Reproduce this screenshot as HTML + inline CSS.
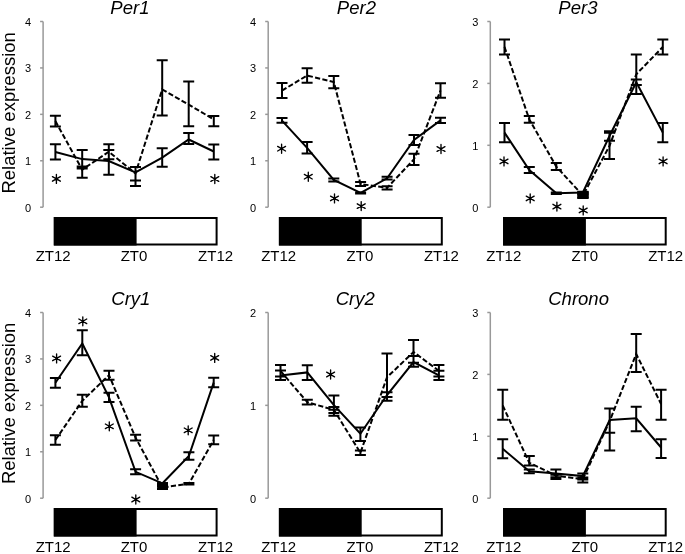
<!DOCTYPE html><html><head><meta charset="utf-8"><style>html,body{margin:0;padding:0;background:#fff;overflow:hidden;}svg{display:block;font-family:"Liberation Sans",sans-serif;will-change:transform;}</style></head><body>
<svg width="685" height="554" viewBox="0 0 685 554">
<text transform="translate(14.9 112.9) rotate(-90)" text-anchor="middle" font-size="18.5" fill="#000">Relative expression</text>
<text transform="translate(14.9 403.4) rotate(-90)" text-anchor="middle" font-size="18.5" fill="#000">Relative expression</text>
<path d="M43.1 21.5V207.2" stroke="#999999" stroke-width="1.5" fill="none"/>
<path d="M40.1 207.2H43.1" stroke="#999999" stroke-width="1.5" fill="none"/>
<text x="31.1" y="211.5" text-anchor="end" font-size="11" fill="#000">0</text>
<path d="M40.1 160.77H43.1" stroke="#999999" stroke-width="1.5" fill="none"/>
<text x="31.1" y="165.07" text-anchor="end" font-size="11" fill="#000">1</text>
<path d="M40.1 114.35H43.1" stroke="#999999" stroke-width="1.5" fill="none"/>
<text x="31.1" y="118.65" text-anchor="end" font-size="11" fill="#000">2</text>
<path d="M40.1 67.93H43.1" stroke="#999999" stroke-width="1.5" fill="none"/>
<text x="31.1" y="72.23" text-anchor="end" font-size="11" fill="#000">3</text>
<path d="M40.1 21.5H43.1" stroke="#999999" stroke-width="1.5" fill="none"/>
<text x="31.1" y="25.8" text-anchor="end" font-size="11" fill="#000">4</text>
<rect x="54.8" y="218" width="161.8" height="26.5" fill="#fff" stroke="#000" stroke-width="2"/>
<rect x="53.8" y="217" width="82.8" height="28.5" fill="#000"/>
<text x="53.2" y="261" text-anchor="middle" font-size="15" fill="#000">ZT12</text>
<text x="134.05" y="261" text-anchor="middle" font-size="15" fill="#000">ZT0</text>
<text x="215.6" y="261" text-anchor="middle" font-size="15" fill="#000">ZT12</text>
<text x="129.9" y="14" text-anchor="middle" font-size="18.5" font-style="italic" fill="#000">Per1</text>
<path d="M55.4 115.8V126.4M49.9 115.8H60.9M49.9 126.4H60.9M82.2 166.4V177.8M76.7 166.4H87.7M76.7 177.8H87.7M108.8 144.3V159.2M103.3 144.3H114.3M103.3 159.2H114.3M135.5 166.9V186.1M130 166.9H141M130 186.1H141M162.2 60.2V115.6M156.7 60.2H167.7M156.7 115.6H167.7M188.7 81.5V126.3M183.2 81.5H194.2M183.2 126.3H194.2M213.8 116.1V126.2M208.3 116.1H219.3M208.3 126.2H219.3M55.4 144.3V159.6M49.9 144.3H60.9M49.9 159.6H60.9M82.2 149.9V168.5M76.7 149.9H87.7M76.7 168.5H87.7M108.8 149.9V174.7M103.3 149.9H114.3M103.3 174.7H114.3M135.5 166.9V180.6M130 166.9H141M130 180.6H141M162.2 148.2V166.7M156.7 148.2H167.7M156.7 166.7H167.7M188.7 133V143.9M183.2 133H194.2M183.2 143.9H194.2M213.8 144.4V159.4M208.3 144.4H219.3M208.3 159.4H219.3" stroke="#000" stroke-width="2" fill="none"/>
<polyline points="55.4,121.1 82.2,169.7 108.8,151.7 135.5,173.4 162.2,89.4 188.7,104.6 213.8,119.4" stroke="#000" stroke-width="2" stroke-dasharray="5.2 2.3" fill="none"/>
<polyline points="55.4,152 82.2,159.1 108.8,161 135.5,172.3 162.2,157.6 188.7,139.5 213.8,151.5" stroke="#000" stroke-width="2" fill="none"/>
<path d="M56.4 174.4V183.4M52.45 176.6L60.35 181.2M52.45 181.2L60.35 176.6" stroke="#000" stroke-width="1.35" stroke-linecap="round" fill="none"/><ellipse cx="56.4" cy="178.9" rx="1.5" ry="1.1" fill="#000"/>
<path d="M214.8 174.5V183.5M210.85 176.7L218.75 181.3M210.85 181.3L218.75 176.7" stroke="#000" stroke-width="1.35" stroke-linecap="round" fill="none"/><ellipse cx="214.8" cy="179" rx="1.5" ry="1.1" fill="#000"/>
<path d="M268.2 21.5V207.2" stroke="#999999" stroke-width="1.5" fill="none"/>
<path d="M265.2 207.2H268.2" stroke="#999999" stroke-width="1.5" fill="none"/>
<text x="256.2" y="211.5" text-anchor="end" font-size="11" fill="#000">0</text>
<path d="M265.2 160.77H268.2" stroke="#999999" stroke-width="1.5" fill="none"/>
<text x="256.2" y="165.07" text-anchor="end" font-size="11" fill="#000">1</text>
<path d="M265.2 114.35H268.2" stroke="#999999" stroke-width="1.5" fill="none"/>
<text x="256.2" y="118.65" text-anchor="end" font-size="11" fill="#000">2</text>
<path d="M265.2 67.93H268.2" stroke="#999999" stroke-width="1.5" fill="none"/>
<text x="256.2" y="72.23" text-anchor="end" font-size="11" fill="#000">3</text>
<path d="M265.2 21.5H268.2" stroke="#999999" stroke-width="1.5" fill="none"/>
<text x="256.2" y="25.8" text-anchor="end" font-size="11" fill="#000">4</text>
<rect x="279.9" y="218" width="161.9" height="26.5" fill="#fff" stroke="#000" stroke-width="2"/>
<rect x="278.9" y="217" width="82.8" height="28.5" fill="#000"/>
<text x="278.7" y="261" text-anchor="middle" font-size="15" fill="#000">ZT12</text>
<text x="359.95" y="261" text-anchor="middle" font-size="15" fill="#000">ZT0</text>
<text x="441.45" y="261" text-anchor="middle" font-size="15" fill="#000">ZT12</text>
<text x="356.4" y="14" text-anchor="middle" font-size="18.5" font-style="italic" fill="#000">Per2</text>
<path d="M282 83.1V98M276.5 83.1H287.5M276.5 98H287.5M307.1 68.3V82.7M301.6 68.3H312.6M301.6 82.7H312.6M333.8 75.9V88.2M328.3 75.9H339.3M328.3 88.2H339.3M360.6 182.1V185.9M355.1 182.1H366.1M355.1 185.9H366.1M387.1 186.2V189.5M381.6 186.2H392.6M381.6 189.5H392.6M414 153.7V164.9M408.5 153.7H419.5M408.5 164.9H419.5M440.5 83.3V97.7M435 83.3H446M435 97.7H446M282 118V122.8M276.5 118H287.5M276.5 122.8H287.5M307.1 142.1V153.6M301.6 142.1H312.6M301.6 153.6H312.6M333.8 178.5V181.4M328.3 178.5H339.3M328.3 181.4H339.3M360.6 192.6V193.6M355.1 192.6H366.1M355.1 193.6H366.1M387.1 176.7V179.6M381.6 176.7H392.6M381.6 179.6H392.6M414 135V145M408.5 135H419.5M408.5 145H419.5M440.5 117.7V123.1M435 117.7H446M435 123.1H446" stroke="#000" stroke-width="2" fill="none"/>
<polyline points="282,90.6 307.1,75.5 333.8,82 360.6,184 387.1,187.8 414,159.3 440.5,90.5" stroke="#000" stroke-width="2" stroke-dasharray="5.2 2.3" fill="none"/>
<polyline points="282,120.6 307.1,147.8 333.8,180 360.6,192.8 387.1,178.3 414,140 440.5,120.4" stroke="#000" stroke-width="2" fill="none"/>
<path d="M281.6 144.2V153.2M277.65 146.4L285.55 151M277.65 151L285.55 146.4" stroke="#000" stroke-width="1.35" stroke-linecap="round" fill="none"/><ellipse cx="281.6" cy="148.7" rx="1.5" ry="1.1" fill="#000"/>
<path d="M308.3 172.2V181.2M304.35 174.4L312.25 179M304.35 179L312.25 174.4" stroke="#000" stroke-width="1.35" stroke-linecap="round" fill="none"/><ellipse cx="308.3" cy="176.7" rx="1.5" ry="1.1" fill="#000"/>
<path d="M334.5 193.9V202.9M330.55 196.1L338.45 200.7M330.55 200.7L338.45 196.1" stroke="#000" stroke-width="1.35" stroke-linecap="round" fill="none"/><ellipse cx="334.5" cy="198.4" rx="1.5" ry="1.1" fill="#000"/>
<path d="M361.2 201.6V210.6M357.25 203.8L365.15 208.4M357.25 208.4L365.15 203.8" stroke="#000" stroke-width="1.35" stroke-linecap="round" fill="none"/><ellipse cx="361.2" cy="206.1" rx="1.5" ry="1.1" fill="#000"/>
<path d="M441 144.5V153.5M437.05 146.7L444.95 151.3M437.05 151.3L444.95 146.7" stroke="#000" stroke-width="1.35" stroke-linecap="round" fill="none"/><ellipse cx="441" cy="149" rx="1.5" ry="1.1" fill="#000"/>
<path d="M490.3 21.5V207.2" stroke="#999999" stroke-width="1.5" fill="none"/>
<path d="M487.3 207.2H490.3" stroke="#999999" stroke-width="1.5" fill="none"/>
<text x="478.3" y="211.5" text-anchor="end" font-size="11" fill="#000">0</text>
<path d="M487.3 145.3H490.3" stroke="#999999" stroke-width="1.5" fill="none"/>
<text x="478.3" y="149.6" text-anchor="end" font-size="11" fill="#000">1</text>
<path d="M487.3 83.4H490.3" stroke="#999999" stroke-width="1.5" fill="none"/>
<text x="478.3" y="87.7" text-anchor="end" font-size="11" fill="#000">2</text>
<path d="M487.3 21.5H490.3" stroke="#999999" stroke-width="1.5" fill="none"/>
<text x="478.3" y="25.8" text-anchor="end" font-size="11" fill="#000">3</text>
<rect x="504.1" y="218" width="161.6" height="26.5" fill="#fff" stroke="#000" stroke-width="2"/>
<rect x="503.1" y="217" width="82.8" height="28.5" fill="#000"/>
<text x="503.75" y="261" text-anchor="middle" font-size="15" fill="#000">ZT12</text>
<text x="584.75" y="261" text-anchor="middle" font-size="15" fill="#000">ZT0</text>
<text x="665.65" y="261" text-anchor="middle" font-size="15" fill="#000">ZT12</text>
<text x="577.9" y="14" text-anchor="middle" font-size="18.5" font-style="italic" fill="#000">Per3</text>
<path d="M504.5 39.4V54.5M499 39.4H510M499 54.5H510M529.3 115.9V122.8M523.8 115.9H534.8M523.8 122.8H534.8M556.3 163.1V170M550.8 163.1H561.8M550.8 170H561.8M582.9 193V198M577.4 193H588.4M577.4 198H588.4M609.5 132.8V158.9M604 132.8H615M604 158.9H615M636.3 54.4V94.1M630.8 54.4H641.8M630.8 94.1H641.8M662.8 39.6V54.4M657.3 39.6H668.3M657.3 54.4H668.3M504.5 123.1V142.2M499 123.1H510M499 142.2H510M529.3 167V172.9M523.8 167H534.8M523.8 172.9H534.8M556.3 192.5V194.1M550.8 192.5H561.8M550.8 194.1H561.8M582.9 191.8V194M577.4 191.8H588.4M577.4 194H588.4M609.5 131.3V140.7M604 131.3H615M604 140.7H615M636.3 79.5V85.1M630.8 79.5H641.8M630.8 85.1H641.8M662.8 123.1V142.2M657.3 123.1H668.3M657.3 142.2H668.3" stroke="#000" stroke-width="2" fill="none"/>
<polyline points="504.5,46.9 529.3,119.4 556.3,166.6 582.9,195.5 609.5,145.9 636.3,74.2 662.8,47" stroke="#000" stroke-width="2" stroke-dasharray="5.2 2.3" fill="none"/>
<polyline points="504.5,132.6 529.3,170 556.3,193.3 582.9,192.5 609.5,136 636.3,82.3 662.8,132.6" stroke="#000" stroke-width="2" fill="none"/>
<rect x="577.2" y="191.2" width="11.6" height="7.4" fill="#000"/>
<path d="M504 156.9V165.9M500.05 159.1L507.95 163.7M500.05 163.7L507.95 159.1" stroke="#000" stroke-width="1.35" stroke-linecap="round" fill="none"/><ellipse cx="504" cy="161.4" rx="1.5" ry="1.1" fill="#000"/>
<path d="M530.2 193.9V202.9M526.25 196.1L534.15 200.7M526.25 200.7L534.15 196.1" stroke="#000" stroke-width="1.35" stroke-linecap="round" fill="none"/><ellipse cx="530.2" cy="198.4" rx="1.5" ry="1.1" fill="#000"/>
<path d="M556.9 202.1V211.1M552.95 204.3L560.85 208.9M552.95 208.9L560.85 204.3" stroke="#000" stroke-width="1.35" stroke-linecap="round" fill="none"/><ellipse cx="556.9" cy="206.6" rx="1.5" ry="1.1" fill="#000"/>
<path d="M583.2 205.9V214.9M579.25 208.1L587.15 212.7M579.25 212.7L587.15 208.1" stroke="#000" stroke-width="1.35" stroke-linecap="round" fill="none"/><ellipse cx="583.2" cy="210.4" rx="1.5" ry="1.1" fill="#000"/>
<path d="M663.1 156.9V165.9M659.15 159.1L667.05 163.7M659.15 163.7L667.05 159.1" stroke="#000" stroke-width="1.35" stroke-linecap="round" fill="none"/><ellipse cx="663.1" cy="161.4" rx="1.5" ry="1.1" fill="#000"/>
<path d="M43.1 312.5V498.2" stroke="#999999" stroke-width="1.5" fill="none"/>
<path d="M40.1 498.2H43.1" stroke="#999999" stroke-width="1.5" fill="none"/>
<text x="31.1" y="502.5" text-anchor="end" font-size="11" fill="#000">0</text>
<path d="M40.1 451.77H43.1" stroke="#999999" stroke-width="1.5" fill="none"/>
<text x="31.1" y="456.07" text-anchor="end" font-size="11" fill="#000">1</text>
<path d="M40.1 405.35H43.1" stroke="#999999" stroke-width="1.5" fill="none"/>
<text x="31.1" y="409.65" text-anchor="end" font-size="11" fill="#000">2</text>
<path d="M40.1 358.93H43.1" stroke="#999999" stroke-width="1.5" fill="none"/>
<text x="31.1" y="363.23" text-anchor="end" font-size="11" fill="#000">3</text>
<path d="M40.1 312.5H43.1" stroke="#999999" stroke-width="1.5" fill="none"/>
<text x="31.1" y="316.8" text-anchor="end" font-size="11" fill="#000">4</text>
<rect x="54.8" y="509" width="161.8" height="26.5" fill="#fff" stroke="#000" stroke-width="2"/>
<rect x="53.8" y="508" width="82.8" height="28.5" fill="#000"/>
<text x="53.2" y="552" text-anchor="middle" font-size="15" fill="#000">ZT12</text>
<text x="134.05" y="552" text-anchor="middle" font-size="15" fill="#000">ZT0</text>
<text x="215.6" y="552" text-anchor="middle" font-size="15" fill="#000">ZT12</text>
<text x="130.8" y="305" text-anchor="middle" font-size="18.5" font-style="italic" fill="#000">Cry1</text>
<path d="M55.4 435.3V444.8M49.9 435.3H60.9M49.9 444.8H60.9M82.3 394.8V406.8M76.8 394.8H87.8M76.8 406.8H87.8M109 370.7V379.8M103.5 370.7H114.5M103.5 379.8H114.5M135.6 434.8V440.6M130.1 434.8H141.1M130.1 440.6H141.1M162.5 486V489M157 486H168M157 489H168M188.9 483.1V484.6M183.4 483.1H194.4M183.4 484.6H194.4M213.7 435.4V444.3M208.2 435.4H219.2M208.2 444.3H219.2M55.4 377.9V387.7M49.9 377.9H60.9M49.9 387.7H60.9M82.3 330.2V355.2M76.8 330.2H87.8M76.8 355.2H87.8M109 392.8V402M103.5 392.8H114.5M103.5 402H114.5M135.6 469.2V474.3M130.1 469.2H141.1M130.1 474.3H141.1M162.5 483.2V484M157 483.2H168M157 484H168M188.9 452.2V459.8M183.4 452.2H194.4M183.4 459.8H194.4M213.7 377.8V387.3M208.2 377.8H219.2M208.2 387.3H219.2" stroke="#000" stroke-width="2" fill="none"/>
<polyline points="55.4,440 82.3,400.8 109,375.2 135.6,437.7 162.5,487.5 188.9,483.8 213.7,439.9" stroke="#000" stroke-width="2" stroke-dasharray="5.2 2.3" fill="none"/>
<polyline points="55.4,382.8 82.3,343.5 109,397.4 135.6,471.8 162.5,483.3 188.9,456 213.7,382.6" stroke="#000" stroke-width="2" fill="none"/>
<rect x="157.1" y="482.1" width="10.9" height="7.6" fill="#000"/>
<path d="M56.6 353.9V362.9M52.65 356.1L60.55 360.7M52.65 360.7L60.55 356.1" stroke="#000" stroke-width="1.35" stroke-linecap="round" fill="none"/><ellipse cx="56.6" cy="358.4" rx="1.5" ry="1.1" fill="#000"/>
<path d="M82.8 316.8V325.8M78.85 319L86.75 323.6M78.85 323.6L86.75 319" stroke="#000" stroke-width="1.35" stroke-linecap="round" fill="none"/><ellipse cx="82.8" cy="321.3" rx="1.5" ry="1.1" fill="#000"/>
<path d="M109.3 421.8V430.8M105.35 424L113.25 428.6M105.35 428.6L113.25 424" stroke="#000" stroke-width="1.35" stroke-linecap="round" fill="none"/><ellipse cx="109.3" cy="426.3" rx="1.5" ry="1.1" fill="#000"/>
<path d="M135.8 495V504M131.85 497.2L139.75 501.8M131.85 501.8L139.75 497.2" stroke="#000" stroke-width="1.35" stroke-linecap="round" fill="none"/><ellipse cx="135.8" cy="499.5" rx="1.5" ry="1.1" fill="#000"/>
<path d="M188.2 425.8V434.8M184.25 428L192.15 432.6M184.25 432.6L192.15 428" stroke="#000" stroke-width="1.35" stroke-linecap="round" fill="none"/><ellipse cx="188.2" cy="430.3" rx="1.5" ry="1.1" fill="#000"/>
<path d="M214.7 353.4V362.4M210.75 355.6L218.65 360.2M210.75 360.2L218.65 355.6" stroke="#000" stroke-width="1.35" stroke-linecap="round" fill="none"/><ellipse cx="214.7" cy="357.9" rx="1.5" ry="1.1" fill="#000"/>
<path d="M268.2 312.5V498.2" stroke="#999999" stroke-width="1.5" fill="none"/>
<path d="M265.2 498.2H268.2" stroke="#999999" stroke-width="1.5" fill="none"/>
<text x="256.2" y="502.5" text-anchor="end" font-size="11" fill="#000">0</text>
<path d="M265.2 405.35H268.2" stroke="#999999" stroke-width="1.5" fill="none"/>
<text x="256.2" y="409.65" text-anchor="end" font-size="11" fill="#000">1</text>
<path d="M265.2 312.5H268.2" stroke="#999999" stroke-width="1.5" fill="none"/>
<text x="256.2" y="316.8" text-anchor="end" font-size="11" fill="#000">2</text>
<rect x="279.9" y="509" width="161.9" height="26.5" fill="#fff" stroke="#000" stroke-width="2"/>
<rect x="278.9" y="508" width="82.8" height="28.5" fill="#000"/>
<text x="278.7" y="552" text-anchor="middle" font-size="15" fill="#000">ZT12</text>
<text x="359.95" y="552" text-anchor="middle" font-size="15" fill="#000">ZT0</text>
<text x="441.45" y="552" text-anchor="middle" font-size="15" fill="#000">ZT12</text>
<text x="355.2" y="305" text-anchor="middle" font-size="18.5" font-style="italic" fill="#000">Cry2</text>
<path d="M280.5 364.9V376.4M275 364.9H286M275 376.4H286M307.3 399.8V404.6M301.8 399.8H312.8M301.8 404.6H312.8M333.9 406.9V412.9M328.4 406.9H339.4M328.4 412.9H339.4M360.4 450.6V455M354.9 450.6H365.9M354.9 455H365.9M387 353.4V400.7M381.5 353.4H392.5M381.5 400.7H392.5M413.5 340.1V362.8M408 340.1H419M408 362.8H419M438.9 365V376.6M433.4 365H444.4M433.4 376.6H444.4M280.5 370.6V380.1M275 370.6H286M275 380.1H286M307.3 365.2V380M301.8 365.2H312.8M301.8 380H312.8M333.9 395.4V415.8M328.4 395.4H339.4M328.4 415.8H339.4M360.4 427.6V441.1M354.9 427.6H365.9M354.9 441.1H365.9M387 392.3V397.1M381.5 392.3H392.5M381.5 397.1H392.5M413.5 356V366.8M408 356H419M408 366.8H419M438.9 370.8V380M433.4 370.8H444.4M433.4 380H444.4M328.4 409.7H339.4" stroke="#000" stroke-width="2" fill="none"/>
<polyline points="280.5,371 307.3,402.2 333.9,409.9 360.4,452.8 387,377.3 413.5,352 438.9,370.8" stroke="#000" stroke-width="2" stroke-dasharray="5.2 2.3" fill="none"/>
<polyline points="280.5,375.5 307.3,372.4 333.9,405.2 360.4,433.7 387,395 413.5,362 438.9,375.4" stroke="#000" stroke-width="2" fill="none"/>
<path d="M330.6 370V379M326.65 372.2L334.55 376.8M326.65 376.8L334.55 372.2" stroke="#000" stroke-width="1.35" stroke-linecap="round" fill="none"/><ellipse cx="330.6" cy="374.5" rx="1.5" ry="1.1" fill="#000"/>
<path d="M490.3 312.5V498.2" stroke="#999999" stroke-width="1.5" fill="none"/>
<path d="M487.3 498.2H490.3" stroke="#999999" stroke-width="1.5" fill="none"/>
<text x="478.3" y="502.5" text-anchor="end" font-size="11" fill="#000">0</text>
<path d="M487.3 436.3H490.3" stroke="#999999" stroke-width="1.5" fill="none"/>
<text x="478.3" y="440.6" text-anchor="end" font-size="11" fill="#000">1</text>
<path d="M487.3 374.4H490.3" stroke="#999999" stroke-width="1.5" fill="none"/>
<text x="478.3" y="378.7" text-anchor="end" font-size="11" fill="#000">2</text>
<path d="M487.3 312.5H490.3" stroke="#999999" stroke-width="1.5" fill="none"/>
<text x="478.3" y="316.8" text-anchor="end" font-size="11" fill="#000">3</text>
<rect x="504.1" y="509" width="161.6" height="26.5" fill="#fff" stroke="#000" stroke-width="2"/>
<rect x="503.1" y="508" width="82.8" height="28.5" fill="#000"/>
<text x="503.75" y="552" text-anchor="middle" font-size="15" fill="#000">ZT12</text>
<text x="584.75" y="552" text-anchor="middle" font-size="15" fill="#000">ZT0</text>
<text x="665.65" y="552" text-anchor="middle" font-size="15" fill="#000">ZT12</text>
<text x="578.6" y="305" text-anchor="middle" font-size="18.5" font-style="italic" fill="#000">Chrono</text>
<path d="M502.7 389.7V419.7M497.2 389.7H508.2M497.2 419.7H508.2M529.3 456V465.5M523.8 456H534.8M523.8 465.5H534.8M555.9 474.8V479M550.4 474.8H561.4M550.4 479H561.4M582.8 477.6V482.5M577.3 477.6H588.3M577.3 482.5H588.3M609.7 408.4V450.4M604.2 408.4H615.2M604.2 450.4H615.2M636.2 334V372M630.7 334H641.7M630.7 372H641.7M661.1 389.8V419.7M655.6 389.8H666.6M655.6 419.7H666.6M502.7 439.2V458.2M497.2 439.2H508.2M497.2 458.2H508.2M529.3 469.6V473.2M523.8 469.6H534.8M523.8 473.2H534.8M555.9 469.6V477.2M550.4 469.6H561.4M550.4 477.2H561.4M582.8 473.5V479.6M577.3 473.5H588.3M577.3 479.6H588.3M609.7 408.4V432.8M604.2 408.4H615.2M604.2 432.8H615.2M636.2 406.7V431.3M630.7 406.7H641.7M630.7 431.3H641.7M661.1 439.2V458M655.6 439.2H666.6M655.6 458H666.6" stroke="#000" stroke-width="2" fill="none"/>
<polyline points="502.7,405.5 529.3,462.8 555.9,475.5 582.8,479.3 609.7,421 636.2,354 661.1,404" stroke="#000" stroke-width="2" stroke-dasharray="5.2 2.3" fill="none"/>
<polyline points="502.7,448.8 529.3,471.2 555.9,473.4 582.8,476.1 609.7,419.9 636.2,418.3 661.1,447.5" stroke="#000" stroke-width="2" fill="none"/>
</svg></body></html>
